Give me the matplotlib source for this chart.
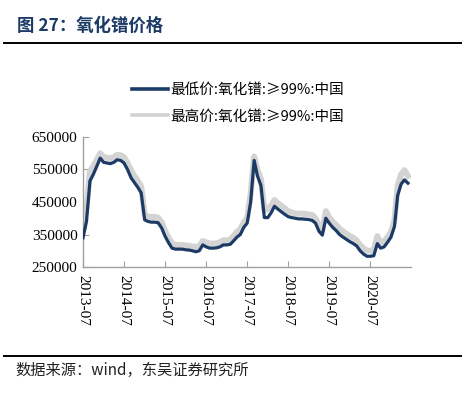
import matplotlib
matplotlib.use("Agg")
import matplotlib.pyplot as plt
from matplotlib.lines import Line2D
import pandas as pd

# ---- data (monthly, 2013-07 .. 2021-06) ----
months = pd.date_range("2013-07-01", "2021-06-01", freq="MS")

low_price = [
    340000, 390000, 515000, 535000, 560000, 585000,   # 2013-07..12
    572000, 570000, 568000, 572000, 580000, 578000,   # 2014-01..06
    570000, 550000, 525000, 510000, 495000, 478000,   # 2014-07..12
    395000, 390000, 388000, 388000, 386000, 370000,   # 2015-01..06
    345000, 325000, 308000, 305000, 305000, 305000,   # 2015-07..12
    303000, 302000, 300000, 297000, 300000, 318000,   # 2016-01..06
    312000, 308000, 308000, 309000, 312000, 318000,   # 2016-07..12
    318000, 320000, 330000, 342000, 350000, 372000,   # 2017-01..06
    385000, 450000, 578000, 530000, 500000, 402000,   # 2017-07..12
    402000, 418000, 437000, 428000, 420000, 412000,   # 2018-01..06
    405000, 402000, 400000, 398000, 398000, 397000,   # 2018-07..12
    396000, 393000, 385000, 360000, 348000, 400000,   # 2019-01..06
    385000, 372000, 362000, 350000, 342000, 335000,   # 2019-07..12
    328000, 322000, 315000, 300000, 290000, 283000,   # 2020-01..06
    283000, 285000, 322000, 308000, 312000, 326000,   # 2020-07..12
    342000, 375000, 470000, 505000, 518000, 508000,   # 2021-01..06
]

high_price = [
    385000, 430000, 545000, 560000, 580000, 600000,
    588000, 586000, 584000, 588000, 595000, 594000,
    588000, 570000, 548000, 530000, 515000, 498000,
    410000, 405000, 404000, 404000, 402000, 388000,
    362000, 340000, 322000, 318000, 318000, 318000,
    316000, 315000, 313000, 312000, 314000, 330000,
    326000, 322000, 322000, 323000, 326000, 332000,
    332000, 334000, 345000, 358000, 366000, 388000,
    400000, 475000, 590000, 548000, 520000, 425000,
    428000, 440000, 456000, 446000, 438000, 430000,
    422000, 418000, 415000, 414000, 414000, 413000,
    412000, 410000, 400000, 378000, 365000, 422000,
    402000, 390000, 380000, 368000, 360000, 352000,
    345000, 340000, 332000, 318000, 308000, 300000,
    300000, 302000, 345000, 325000, 328000, 342000,
    358000, 395000, 500000, 535000, 548000, 530000,
]

tick_labels = ["2013-07", "2014-07", "2015-07", "2016-07",
               "2017-07", "2018-07", "2019-07", "2020-07"]
y_ticks = [250000, 350000, 450000, 550000, 650000]

title_text = "图 27：氧化镨价格"
source_text = "数据来源：wind，东吴证券研究所"
label_low = "最低价:氧化镨:≥99%:中国"
label_high = "最高价:氧化镨:≥99%:中国"

navy = "#1c3a66"
gray = "#d3d3d3"
cjk = ["Noto Sans CJK SC", "DejaVu Sans"]

fig = plt.figure(figsize=(4.74, 3.93), dpi=100)
W, H = 474, 393
ax = fig.add_axes([83 / W, 1 - 267 / H, (411 - 83) / W, (267 - 137) / H])

ax.plot(months, high_price, color=gray, lw=4.3, solid_joinstyle="round", zorder=2)
ax.plot(months, low_price, color=navy, lw=2.3, solid_joinstyle="round", zorder=3)

ax.set_ylim(250000, 650000)
ax.set_yticks(y_ticks)
ax.set_xlim(pd.Timestamp("2013-07-01"), pd.Timestamp("2021-06-28"))
ax.set_xticks([pd.Timestamp(t + "-01") for t in tick_labels])
ax.set_xticklabels(tick_labels, rotation=-90, family="Liberation Serif", fontsize=11)
for lab in ax.get_yticklabels():
    lab.set_family("Liberation Serif")
    lab.set_fontsize(11)
ax.yaxis.set_major_formatter(matplotlib.ticker.FuncFormatter(lambda v, p: f"{int(v)}"))

for s in ["top", "right"]:
    ax.spines[s].set_visible(False)
for s in ["left", "bottom"]:
    ax.spines[s].set_color("#a0a0a0")
    ax.spines[s].set_linewidth(1.0)
ax.tick_params(axis="both", direction="in", length=4, color="#a0a0a0", pad=4)
ax.tick_params(axis="x", pad=6)

# legend
handles = [Line2D([], [], color=navy, lw=2.6), Line2D([], [], color=gray, lw=2.6)]
fig.legend(handles, [label_low, label_high], loc="upper left",
           bbox_to_anchor=(132 / W, 1 - 83 / H), frameon=False,
           prop={"family": cjk, "size": 10.5}, handlelength=2.5,
           handletextpad=0.15, labelspacing=0.85, borderaxespad=0, borderpad=0)

# title and rules
fig.text(17 / W, 1 - 26 / H, title_text, family=cjk, fontsize=12.5,
         fontweight="bold", color=navy, va="center", ha="left")
fig.add_artist(Line2D([4 / W, 461 / W], [1 - 43 / H, 1 - 43 / H],
                      color="black", lw=1.4))
fig.add_artist(Line2D([4 / W, 461 / W], [1 - 356 / H, 1 - 356 / H],
                      color="black", lw=1.4))
fig.text(15 / W, 1 - 370 / H, source_text, family=cjk, fontsize=11,
         color="#222222", va="center", ha="left")

fig.savefig("out.png", dpi=100)
